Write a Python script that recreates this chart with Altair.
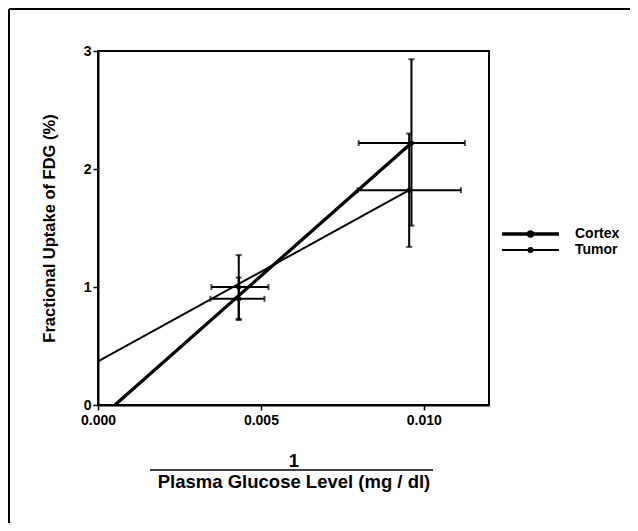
import altair as alt
import pandas as pd

# ---- data ----
series_names = ["Cortex", "Tumor"]

cortex_x = [0.00432, 0.00962]
cortex_y = [0.90, 2.22]
cortex_xlo = [0.00345, 0.00800]
cortex_xhi = [0.00511, 0.01126]
cortex_ylo = [0.72, 1.52]
cortex_yhi = [1.08, 2.93]

tumor_x = [0.00432, 0.00955]
tumor_y = [1.00, 1.82]
tumor_xlo = [0.00348, 0.00797]
tumor_xhi = [0.00523, 0.01114]
tumor_ylo = [0.73, 1.34]
tumor_yhi = [1.27, 2.30]

# fitted lines (end points)
cortex_fit_x = [0.00052, 0.00962]
cortex_fit_y = [0.0, 2.22]
tumor_fit_x = [0.0, 0.00955]
tumor_fit_y = [0.37, 1.82]

x_ticks = [0.0, 0.005, 0.010]
y_ticks = [0, 1, 2, 3]

FONT = "Liberation Sans"

fit_df = pd.DataFrame({
    "series": ["Cortex"] * 2 + ["Tumor"] * 2,
    "x": cortex_fit_x + tumor_fit_x,
    "y": cortex_fit_y + tumor_fit_y,
    "order": [0, 1, 0, 1],
})

pts_df = pd.DataFrame({
    "series": ["Cortex"] * 2 + ["Tumor"] * 2,
    "x": cortex_x + tumor_x,
    "y": cortex_y + tumor_y,
    "xlo": cortex_xlo + tumor_xlo,
    "xhi": cortex_xhi + tumor_xhi,
    "ylo": cortex_ylo + tumor_ylo,
    "yhi": cortex_yhi + tumor_yhi,
})

xscale = alt.Scale(domain=[0, 0.012], nice=False, zero=False)
yscale = alt.Scale(domain=[0, 3], nice=False)

xaxis = alt.Axis(
    values=x_ticks, format=".3f", title=["1", "Plasma Glucose Level (mg / dl)"],
    labelFont=FONT, labelFontSize=14, labelFontWeight="bold", labelColor="black",
    titleFont=FONT, titleFontSize=18.5, titleFontWeight="bold", titleColor="black",
    titleLineHeight=21, titlePadding=24, labelPadding=3, tickSize=5,
    tickColor="black", domainColor="black", domainWidth=2, tickWidth=1.5,
    grid=False, labelFlush=False,
)
yaxis = alt.Axis(
    values=y_ticks, format="d", title="Fractional Uptake of FDG (%)",
    labelFont=FONT, labelFontSize=14, labelFontWeight="bold", labelColor="black",
    titleFont=FONT, titleFontSize=16.5, titleFontWeight="bold", titleColor="black",
    titlePadding=26, labelPadding=2, tickSize=5,
    tickColor="black", domainColor="black", domainWidth=2, tickWidth=1.5,
    grid=False,
)

legend_path = "M-10,0H10M-0.7,0A0.7,0.7,0,1,1,0.7,0A0.7,0.7,0,1,1,-0.7,0"

lines = alt.Chart(fit_df).mark_line(color="black").encode(
    x=alt.X("x:Q", scale=xscale, axis=xaxis),
    y=alt.Y("y:Q", scale=yscale, axis=yaxis),
    detail="series:N",
    order="order:Q",
    strokeWidth=alt.StrokeWidth(
        "series:N",
        scale=alt.Scale(domain=series_names, range=[3.3, 2]),
        legend=alt.Legend(
            title=None, orient="none", legendX=425.5, legendY=176,
            symbolType=legend_path, symbolSize=32.5,
            symbolStrokeColor="black", symbolFillColor="black",
            labelFont=FONT, labelFontSize=14, labelFontWeight="bold",
            labelColor="black", labelOffset=37.5, rowPadding=-3, padding=0,
        ),
    ),
)

hbar = alt.Chart(pts_df).mark_rule(color="black", strokeWidth=2).encode(
    x="xlo:Q", x2="xhi:Q", y="y:Q"
)
vbar = alt.Chart(pts_df).mark_rule(color="black", strokeWidth=2).encode(
    x="x:Q", y="ylo:Q", y2="yhi:Q"
)
hcap_lo = alt.Chart(pts_df).mark_tick(color="black", orient="vertical", size=6, thickness=2).encode(
    x="xlo:Q", y="y:Q")
hcap_hi = alt.Chart(pts_df).mark_tick(color="black", orient="vertical", size=6, thickness=2).encode(
    x="xhi:Q", y="y:Q")
vcap_lo = alt.Chart(pts_df).mark_tick(color="black", orient="horizontal", size=6, thickness=2).encode(
    x="x:Q", y="ylo:Q")
vcap_hi = alt.Chart(pts_df).mark_tick(color="black", orient="horizontal", size=6, thickness=2).encode(
    x="x:Q", y="yhi:Q")
points = alt.Chart(pts_df).mark_point(filled=True, color="black", opacity=1, size=25).encode(
    x="x:Q", y="y:Q")

one = pd.DataFrame({"a": [0]})
frame_left = alt.Chart(one).mark_rule(color="black", strokeWidth=2).encode(
    x=alt.value(-89), y=alt.value(-42), y2=alt.value(480))
frame_top = alt.Chart(one).mark_rule(color="black", strokeWidth=2).encode(
    x=alt.value(-89), x2=alt.value(532), y=alt.value(-42))
fraction_bar = alt.Chart(one).mark_rule(color="black", strokeWidth=1.5).encode(
    x=alt.value(52), x2=alt.value(335), y=alt.value(419))

chart = alt.layer(
    lines, hbar, vbar, hcap_lo, hcap_hi, vcap_lo, vcap_hi, points,
    frame_left, frame_top, fraction_bar,
).properties(
    width=391, height=354,
    padding={"left": 90, "top": 43, "right": 141, "bottom": 118},
    autosize=alt.AutoSizeParams(type="none"),
    background="white",
).configure_view(stroke="black", strokeWidth=2)

chart.save("out.html", embed_options={"renderer": "svg", "actions": False})
